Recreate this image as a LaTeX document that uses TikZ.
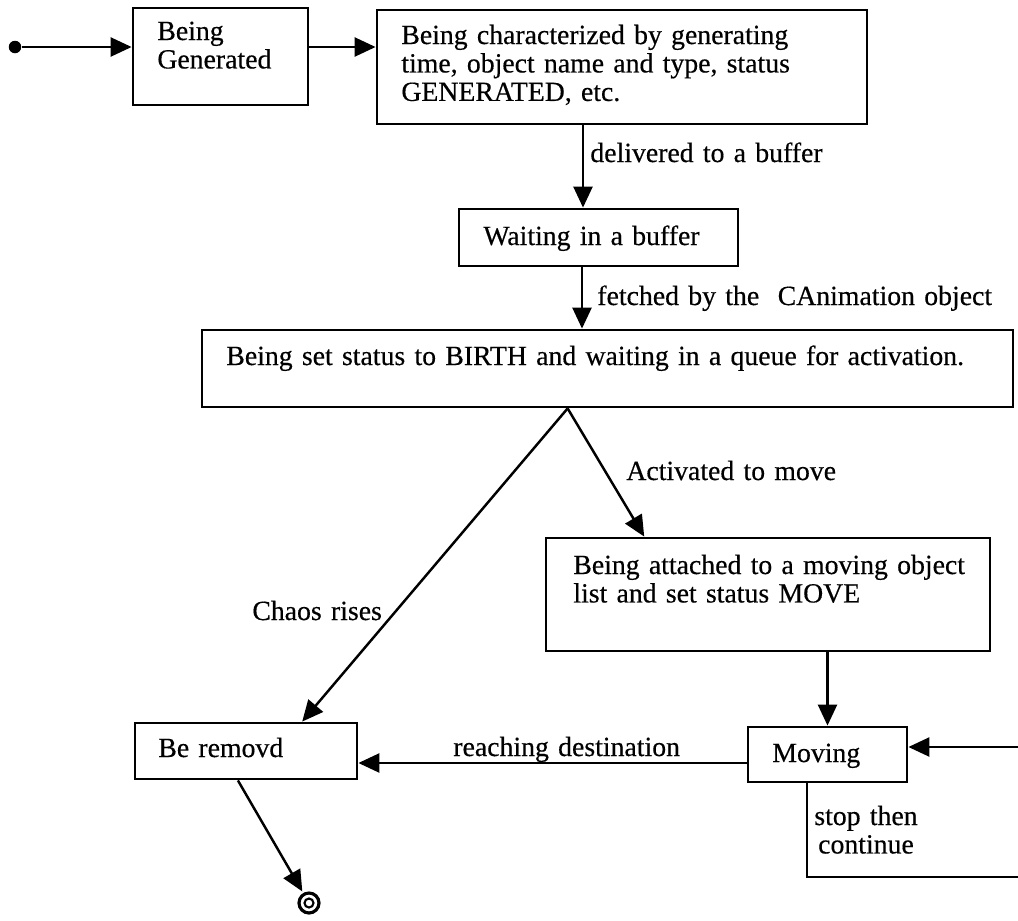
\documentclass[tikz,border=0pt]{standalone}
\usepackage{fontspec}
\setmainfont{Liberation Serif}[FakeBold=0.4]
\usetikzlibrary{arrows.meta,fit,calc}
\begin{document}
\begin{tikzpicture}[x=0.02cm,y=-0.02cm,
  box/.style={draw, line width=1.6pt, inner sep=0pt},
  txt/.style={font=\fontsize{15.8pt}{16.2pt}\selectfont, inner sep=0pt, anchor=base west, text width=19cm, align=left},
  arr/.style={line width=1.4pt, line join=miter, -{Triangle[length=0.42cm,width=0.38cm]}}]
\useasboundingbox (0,0) rectangle (1018,920);
\fill[white] (0,0) rectangle (1018,920);
\clip (0,0) rectangle (1018,920);

% states
\node[circle, fill, inner sep=0pt, minimum size=0.25cm] (start) at (15,47) {};
\node[box, fit={(133,8) (308,105)}] (gen) {};
\node[txt] (genT) at (157,40) {Being\\Generated};
\node[box, fit={(377,10) (867,124)}] (char) {};
\node[txt] (charT) at (401,44) {Being characterized by generating\\time, object name and type, status\\GENERATED, etc.};
\node[box, fit={(459,209) (738,266)}] (wait) {};
\node[txt] (waitT) at (483,245) {Waiting in a buffer};
\node[box, fit={(202,330) (1013,407)}] (birth) {};
\node[txt] (birthT) at (226,365) {Being set status to BIRTH and waiting in a queue for activation.};
\node[box, fit={(546,538) (990,651)}] (att) {};
\node[txt] (attT) at (573,574) {Being attached to a moving object\\list and set status MOVE};
\node[box, fit={(748,727) (907,782)}] (mov) {};
\node[txt] (movT) at (772,762) {Moving};
\node[box, fit={(135,723) (357,779)}] (rem) {};
\node[txt] (remT) at (158,757) {Be removd};
\node[circle, draw, line width=1.8pt, inner sep=0pt, minimum size=0.4cm] (fin) at (309,903) {};
\node[circle, draw, line width=1.2pt, inner sep=0pt, minimum size=0.18cm] (finIn) at (fin) {};

% labels
\node[txt] (l1) at (590,162) {delivered to a buffer};
\node[txt] (l2) at (597,305) {fetched by the\ \ CAnimation object};
\node[txt] (l3) at (626,480) {Activated to move};
\node[txt] (l4) at (252,620) {Chaos rises};
\node[txt] (l5) at (453,756) {reaching destination};
\node[txt, anchor=base, text width=4cm, align=center] (l6) at (866,825) {stop then\\continue};

% connectors
\draw[arr] (start) -- (gen.west |- start);
\draw[arr] (gen.east |- start) -- (char.west |- start);
\coordinate (c3) at (583,0);
\draw[arr] (char.south -| c3) -- (wait.north -| c3);
\coordinate (c4) at (582,0);
\draw[arr] (wait.south -| c4) -- (birth.north -| c4);
\coordinate (apex) at ($(birth.south west)!0.451!(birth.south east)$);
\draw[arr] (apex) -- ($(att.north west)!0.223!(att.north east)$);
\draw[arr] (apex) -- ($(rem.north west)!0.75!(rem.north east)$);
\draw[arr] (att.south -| mov.north) -- (mov.north);
\coordinate (c7) at (0,763);
\draw[arr] (mov.west |- c7) -- (rem.east |- c7);
\draw[arr, shorten >=1pt] ($(rem.south west)!0.464!(rem.south east)$) -- (fin);
\coordinate (lb) at (807,877);
\coordinate (rt) at (1030,747);
\draw[arr] (mov.south -| lb) -- (lb) -- (lb -| rt) -- (rt) -- (mov.east |- rt);
\end{tikzpicture}
\end{document}
